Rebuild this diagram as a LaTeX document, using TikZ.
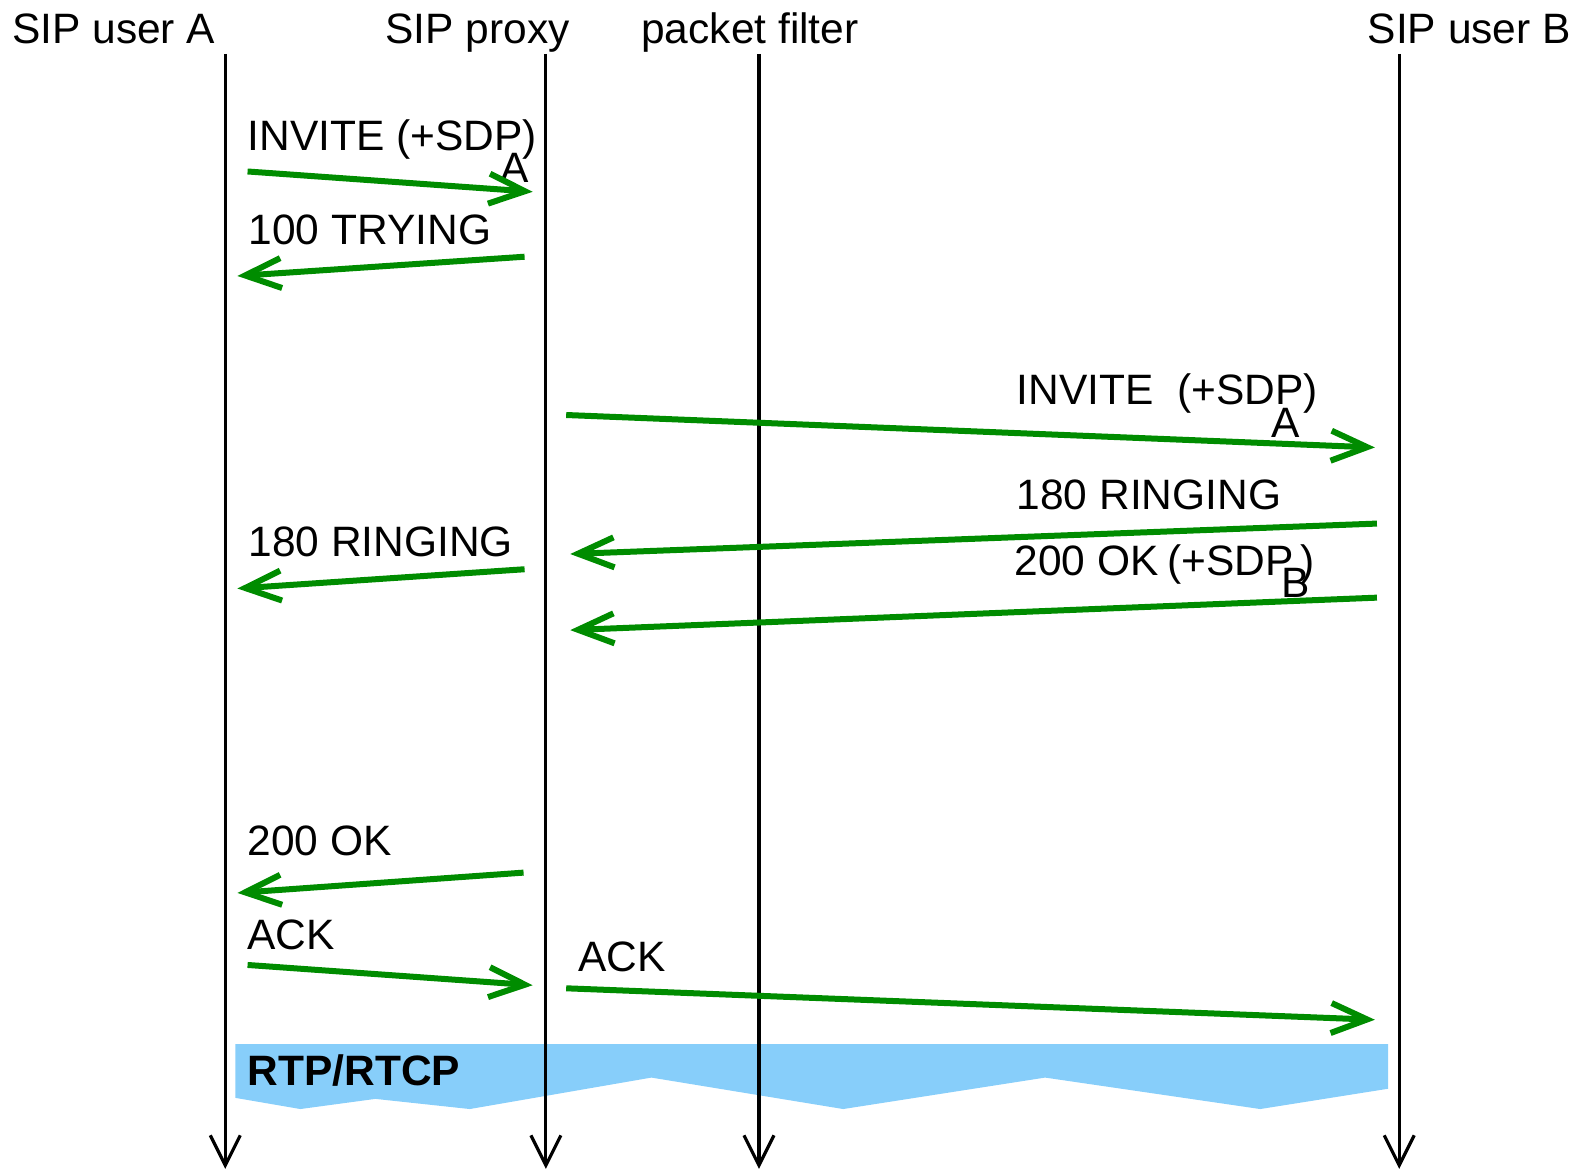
\documentclass[tikz,border=0pt]{standalone}
\usepackage{fontspec}
\setmainfont{Liberation Sans}
\usetikzlibrary{arrows.meta}
\definecolor{msggreen}{RGB}{0,140,0}
\definecolor{rtpblue}{RGB}{135,206,250}
\newcommand{\lowtag}[3]{\rlap{\kern#1\raisebox{-#2}{#3}}}

\begin{document}
\begin{tikzpicture}[x=0.50735pt,y=-0.50735pt,
                    font=\fontsize{21.25}{25}\selectfont]
  \tikzstyle{every node}=[inner sep=0pt,outer sep=0pt]
  \tikzstyle{lbl}=[anchor=base west]
  \tikzstyle{life}=[line width=1.6pt,-{Straight Barb[length=15pt,width=15pt]}]
  \tikzstyle{msg}=[draw=msggreen,line width=3pt,-{Straight Barb[length=18pt,width=15pt]}]

  \useasboundingbox (0,0) rectangle (1568,1154);

     \node[lbl] (ua) at (12,43)   {SIP user A};
  \node[lbl] (px) at (380,43)     {SIP proxy};
   \node[lbl] (pf) at (632,43)	{packet filter};
    \node[lbl] (ub) at (1348,43)	{SIP user B};

  \coordinate (uatop) at (222,53);   \coordinate (uabot) at (222,1152);
  \coordinate (pxtop) at (538,53);   \coordinate (pxbot) at (538,1152);
  \coordinate (pftop) at (748,53);   \coordinate (pfbot) at (748,1152);
  \coordinate (ubtop) at (1379,53);  \coordinate (ubbot) at (1379,1152);

  \fill[rtpblue] (232,1029) -- (1368,1029) -- (1368,1073) -- (1242,1093)
     -- (1030,1062) -- (831,1093) -- (642,1062) -- (463,1093) -- (370,1083)
     -- (296,1093) -- (232,1082) -- cycle;
  \node[lbl,font=\fontsize{21.25}{25}\selectfont\bfseries] (rtp) at (244,1070) {RTP/RTCP};

  \path
     (uatop) edge[life] (uabot)
     (pxtop) edge[life] (pxbot)
     (pftop) edge[life] (pfbot)
     (ubtop) edge[life] (ubbot);

  \coordinate (inv1s) at (244,169);   \coordinate (inv1e) at (525,189);
  \coordinate (try1s) at (517,253);   \coordinate (try1e) at (234,272);
  \coordinate (inv2s) at (558,409);   \coordinate (inv2e) at (1355,441);
  \coordinate (rng2s) at (1357,516);  \coordinate (rng2e) at (562,546);
  \coordinate (ok2s)  at (1357,589);  \coordinate (ok2e)  at (562,621);
  \coordinate (rng1s) at (517,561);   \coordinate (rng1e) at (234,580);
  \coordinate (ok1s)  at (516,860);   \coordinate (ok1e)  at (234,880);
  \coordinate (ack1s) at (244,951);   \coordinate (ack1e) at (525,971);
  \coordinate (ack2s) at (558,974);   \coordinate (ack2e) at (1355,1005);

  \node[lbl] (linv1) at (244,148)  {INVITE (+SDP\lowtag{-.52em}{.76em}{A})};
  \node[lbl] (ltry1) at (245,241)  {100 TRYING};
  \node[lbl] (linv2) at (1002,399) {INVITE\ \ (+SDP\lowtag{-.75em}{.76em}{A})};
  \node[lbl] (lrng2) at (1002,502) {180 RINGING};
  \node[lbl] (lok2)  at (1000,567) {200 OK\kern.2em(+SDP\lowtag{-.29em}{.52em}{B}\kern.17em)};
  \node[lbl] (lrng1) at (245,548)  {180 RINGING};
  \node[lbl] (lok1)  at (244,843)  {200 OK};
  \node[lbl] (lack1) at (244,936)  {ACK};
  \node[lbl] (lack2) at (570,957)  {ACK};

  \path
  	  (inv1s) edge[msg] (inv1e)
 	  (try1s) edge[msg] (try1e)
  	  (inv2s) edge[msg] (inv2e)
  	  (rng2s) edge[msg] (rng2e)
  	  (ok2s)  edge[msg] (ok2e)
  	  (rng1s) edge[msg] (rng1e)
  	  (ok1s)  edge[msg] (ok1e)
  	  (ack1s) edge[msg] (ack1e)
  	  (ack2s) edge[msg] (ack2e)
		;

\end{tikzpicture}
\end{document}
